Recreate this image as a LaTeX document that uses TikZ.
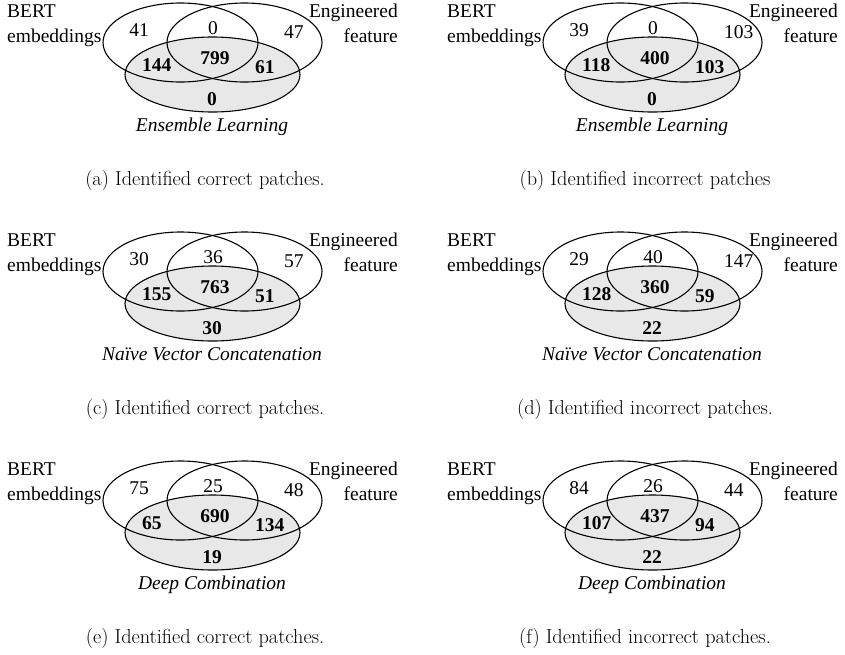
\documentclass[tikz,border=0pt]{standalone}
\usepackage{fontspec}
\newfontfamily\vennfont{Liberation Serif}
\usetikzlibrary{positioning}
\definecolor{VennGrey}{RGB}{232,232,232}
\tikzset{
	venn/.style={line width=1.1pt},
	vtext/.style={font=\vennfont\fontsize{19.5}{24}\selectfont, inner sep=0pt},
	vbold/.style={font=\vennfont\bfseries\fontsize{19.5}{24}\selectfont, inner sep=0pt},
	vmethod/.style={font=\vennfont\itshape\fontsize{19.5}{24}\selectfont, inner sep=0pt},
	subcap/.style={font=\fontsize{20.3}{24}\selectfont, inner sep=0pt},
}
% #1-#3 upper counts, #4-#7 counts in the lower set, #8 method, #9 caption
\newcommand{\vennpanel}[9]{%
	\fill[VennGrey] (212.5,74.5) ellipse [x radius=87.5pt, y radius=37.5pt];
	\draw[venn] (180.5,42.5) ellipse [x radius=77.5pt, y radius=39.5pt];
	\draw[venn] (244.5,42.5) ellipse [x radius=77.5pt, y radius=39.5pt];
	\draw[venn] (212.5,74.5) ellipse [x radius=87.5pt, y radius=37.5pt];
	\node[vtext, anchor=base west] (bert) at (7,17) {BERT};
	\node[vtext, anchor=base west] (emb) at (7,42) {embeddings};
	\node[vtext, anchor=base east] (eng) at (398,17) {Engineered};
	\node[vtext, anchor=base east] (feat) at (398,42) {feature};
	\node[vtext] (onlyb) at (139,30) {#1};
	\node[vtext] (bothup) at (213,28) {#2};
	\node[vtext, anchor=west] (onlye) at (284,32) {#3};
	\node[vbold, anchor=west] (bl) at (142,65) {#4};
	\node[vbold] (all) at (215,58.5) {#5};
	\node[vbold, anchor=west] (el) at (255,67) {#6};
	\node[vbold] (onlyl) at (212,99.5) {#7};
	\node[vmethod, anchor=base] (meth) at (212,131) {#8};
	\node[subcap, anchor=base] (cap) at (205,185) {#9};
}

\begin{document}
\begin{tikzpicture}[x=1pt, y=-1pt]
\useasboundingbox (0,0) rectangle (845,654);

\begin{scope}[name prefix=a-]
\vennpanel{41}{0}{47}{144}{799}{61}{0}{Ensemble Learning}{(a)\ Identified correct patches.}
\end{scope}
\begin{scope}[shift={(440,0)}, name prefix=b-]
\vennpanel{39}{0}{103}{118}{400}{103}{0}{Ensemble Learning}{(b)\ Identified incorrect patches}
\end{scope}

\begin{scope}[shift={(0,229)}, name prefix=c-]
\vennpanel{30}{36}{57}{155}{763}{51}{30}{Naïve Vector Concatenation}{(c)\ Identified correct patches.}
\end{scope}
\begin{scope}[shift={(440,229)}, name prefix=d-]
\vennpanel{29}{40}{147}{128}{360}{59}{22}{Naïve Vector Concatenation}{(d)\ Identified incorrect patches.}
\end{scope}

\begin{scope}[shift={(0,458)}, name prefix=e-]
\vennpanel{75}{25}{48}{65}{690}{134}{19}{Deep Combination}{(e)\ Identified correct patches.}
\end{scope}
\begin{scope}[shift={(440,458)}, name prefix=f-]
\vennpanel{84}{26}{44}{107}{437}{94}{22}{Deep Combination}{(f)\ Identified incorrect patches.}
\end{scope}
\end{tikzpicture}
\end{document}
